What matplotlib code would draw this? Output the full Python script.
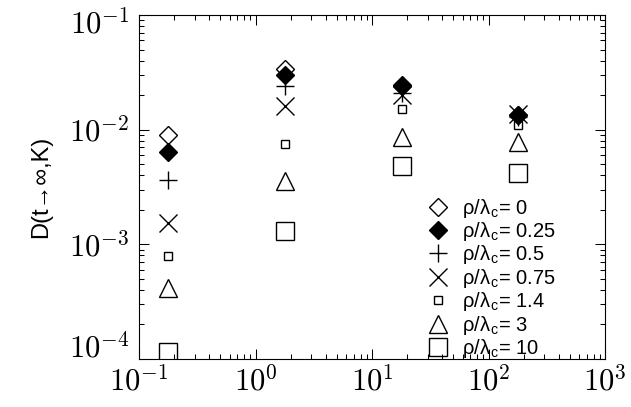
import numpy as np
import matplotlib
matplotlib.use("Agg")
import matplotlib.pyplot as plt
from matplotlib.ticker import LogLocator, FuncFormatter, NullFormatter
from matplotlib.transforms import ScaledTranslation

plt.rcParams['font.family'] = ['Liberation Sans', 'DejaVu Sans']
plt.rcParams['mathtext.fontset'] = 'cm'

# data
K = [0.178, 1.80, 18.0, 180.0]
ratios = ['0', '0.25', '0.5', '0.75', '1.4', '3', '10']
D_0    = [9.0e-3, 3.40e-2, 2.40e-2, 1.35e-2]
D_025  = [6.4e-3, 3.00e-2, 2.45e-2, 1.34e-2]
D_05   = [3.65e-3, 2.40e-2, 2.10e-2, 1.30e-2]
D_075  = [1.54e-3, 1.60e-2, 2.00e-2, 1.36e-2]
D_14   = [7.9e-4, 7.5e-3, 1.50e-2, 1.10e-2]
D_3    = [4.2e-4, 3.55e-3, 8.6e-3, 7.8e-3]
D_10   = [1.15e-4, 1.30e-3, 4.8e-3, 4.2e-3]
series = [D_0, D_025, D_05, D_075, D_14, D_3, D_10]

# marker styles per curve
styles = [
    dict(marker='D', ms=9.0, mfc='white', mec='black'),
    dict(marker='D', ms=9.0, mfc='black', mec='black'),
    dict(marker='+', ms=13.5, mec='black'),
    dict(marker='x', ms=13.5, mec='black'),
    dict(marker='s', ms=5.8, mfc='none', mec='black'),
    dict(marker='^', ms=13.5, mfc='none', mec='black'),
    dict(marker='s', ms=13.5, mfc='none', mec='black'),
]

fig = plt.figure(figsize=(6.31, 4.07), dpi=100)
ax = fig.add_axes([139/631, 48/407, 466/631, 344/407])

for vals, r, st in zip(series, ratios, styles):
    ax.plot(K, vals, linestyle='none', mew=1.0,
            label='\u03c1/\u03bb$_{\\mathregular{c}}$= ' + r, **st)

ax.set_xscale('log')
ax.set_yscale('log')
ax.set_xlim(0.1, 1000)
ax.set_ylim(1e-4, 1e-1)

fmt = FuncFormatter(lambda v, p: r'$10^{%d}$' % int(round(np.log10(v))))
ax.xaxis.set_major_formatter(fmt)
ax.yaxis.set_major_formatter(fmt)
ax.xaxis.set_minor_locator(LogLocator(base=10, subs=np.arange(2, 10)))
ax.yaxis.set_minor_locator(LogLocator(base=10, subs=np.arange(2, 10)))
ax.xaxis.set_minor_formatter(NullFormatter())
ax.yaxis.set_minor_formatter(NullFormatter())

ax.tick_params(which='both', direction='in', top=True, right=True,
               labelsize=22, width=0.75)
ax.tick_params(which='major', length=7)
ax.tick_params(which='minor', length=3.5)
ax.tick_params(axis='x', pad=5)
ax.tick_params(axis='y', pad=7)
for s in ax.spines.values():
    s.set_linewidth(0.8)

ax.set_ylabel('D(t\u2192\u221e,K)', fontsize=17, labelpad=12)

ax.legend(loc='lower left', bbox_to_anchor=(0.620, -0.003), frameon=False,
          fontsize=14.5, numpoints=1, handlelength=1.0, handletextpad=0.7,
          labelspacing=0.02, borderpad=0, borderaxespad=0)

# IDL-like placement: end labels on the y axis pulled inside the frame
fig.canvas.draw()
for t in ax.yaxis.get_major_ticks():
    loc = t.get_loc()
    if np.isclose(loc, 1e-1):
        lab = t.label1
        lab.set_transform(lab.get_transform() +
                          ScaledTranslation(0, -6/100, fig.dpi_scale_trans))
    elif np.isclose(loc, 1e-4):
        lab = t.label1
        lab.set_transform(lab.get_transform() +
                          ScaledTranslation(0, 14/100, fig.dpi_scale_trans))

fig.savefig('out.png', dpi=100)
